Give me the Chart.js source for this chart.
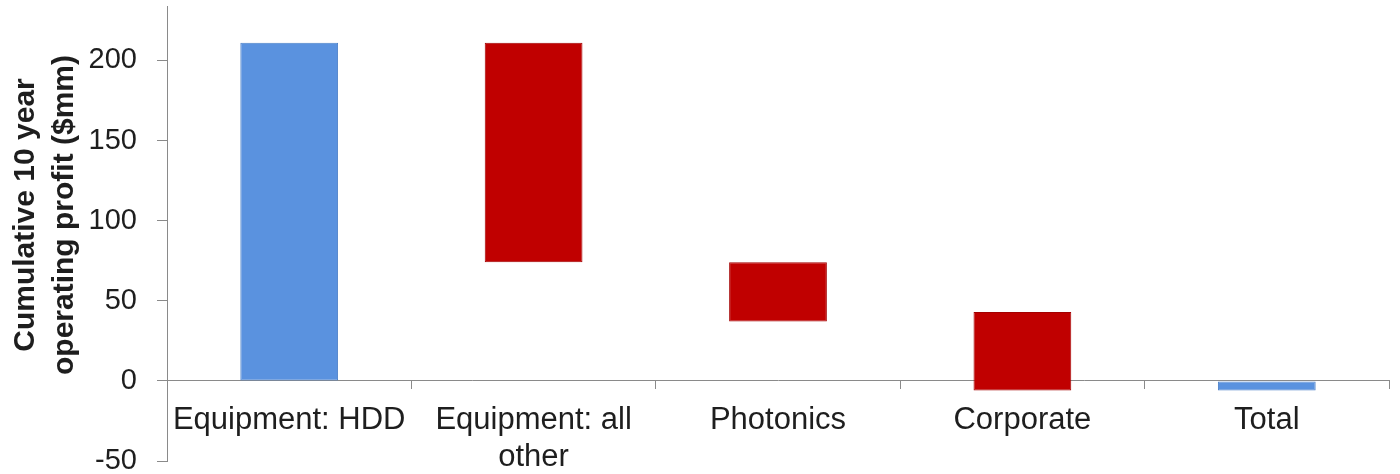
<!DOCTYPE html>
<html>
<head>
<meta charset="utf-8">
<script src="https://cdn.jsdelivr.net/npm/chart.js@4"></script>
<style>
  html, body { margin: 0; padding: 0; background: #fff; }
  #wrap { width: 1400px; height: 474px; }
</style>
</head>
<body>
<div id="wrap"><canvas id="c" width="1400" height="474"></canvas></div>
<script>
// Waterfall of cumulative 10-year operating profit by segment ($mm)
const categories = ['Equipment: HDD', ['Equipment: all', 'other'], 'Photonics', 'Corporate', 'Total'];
const barStart = [0, 211, 74, 43, 0];
const barEnd = [211, 74, 37, -6, -6];
const barKind = ['total', 'change', 'change', 'change', 'total'];
const yTicks = [-50, 0, 50, 100, 150, 200];
const yTitle = ['Cumulative 10 year', 'operating profit ($mm)'];

const fillFor = { total: '#5A92DF', change: '#C00000' };
const edgeFor = { total: '#4C80C8', change: '#A30000' };

const FONT = '"Liberation Sans", Arial, sans-serif';
const AXIS = '#8a8a8a';

// Rotated two-line axis title on the left
const sideTitle = {
  id: 'sideTitle',
  afterDraw(chart) {
    const ctx = chart.ctx;
    ctx.save();
    ctx.font = 'bold 30px ' + FONT;
    ctx.fillStyle = '#1e1e1e';
    ctx.textAlign = 'center';
    ctx.textBaseline = 'middle';
    ctx.translate(0, 215);
    ctx.rotate(-Math.PI / 2);
    yTitle.forEach((line, i) => ctx.fillText(line, 0, 26 + i * 39));
    ctx.restore();
  }
};

new Chart(document.getElementById('c'), {
  type: 'bar',
  data: {
    labels: categories,
    datasets: [{
      data: barStart.map((s, i) => [s, barEnd[i]]),
      backgroundColor: barKind.map(k => fillFor[k]),
      borderColor: barKind.map(k => edgeFor[k]),
      borderWidth: 1,
      borderSkipped: false,
      barPercentage: 0.4,
      categoryPercentage: 1.0
    }]
  },
  options: {
    responsive: false,
    animation: false,
    layout: { padding: { left: 0, right: 11, top: 6, bottom: 13 } },
    plugins: { legend: { display: false }, tooltip: { enabled: false }, title: { display: false } },
    scales: {
      x: {
        position: { y: 0 },
        z: 1,
        offset: true,
        grid: { display: true, drawOnChartArea: false, drawTicks: true, tickLength: 8, offset: true, color: AXIS },
        border: { display: true, color: AXIS, width: 1 },
        ticks: {
          color: '#1e1e1e',
          font: { family: FONT, size: 31, lineHeight: 1.2 },
          padding: 13,
          maxRotation: 0,
          autoSkip: false
        },
        afterFit(scale) {
          scale.height = 0;
          scale.paddingLeft = 0;
          scale.paddingRight = 0;
        }
      },
      y: {
        min: -50,
        max: 234,
        grid: { display: true, drawOnChartArea: false, drawTicks: true, tickLength: 10, color: AXIS },
        border: { display: true, color: AXIS, width: 1 },
        ticks: {
          stepSize: 50,
          color: '#1e1e1e',
          font: { family: FONT, size: 29 },
          padding: 20
        },
        afterBuildTicks(scale) {
          scale.ticks = yTicks.map(v => ({ value: v }));
        },
        afterFit(scale) {
          scale.width = 167;
          scale.paddingTop = 0;
          scale.paddingBottom = 0;
        }
      }
    }
  },
  plugins: [sideTitle]
});
</script>
</body>
</html>
